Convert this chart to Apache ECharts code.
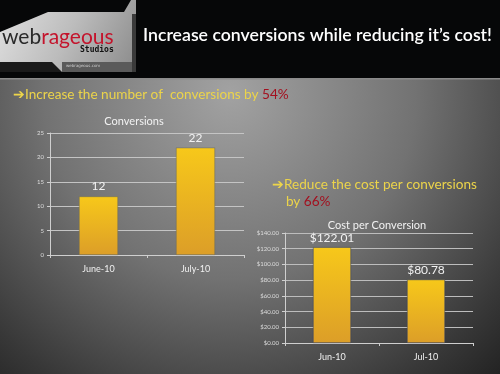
<!DOCTYPE html>
<html><head><meta charset="utf-8">
<script src="https://cdn.jsdelivr.net/npm/echarts@6/dist/echarts.min.js"></script>
<style>html,body{margin:0;padding:0;background:#000}#c{width:500px;height:374px}</style>
</head><body><div id="c"></div>
<script>
const convCategories = ['June-10', 'July-10'];
const convValues = [12, 22];
const convTicks = [0, 5, 10, 15, 20, 25];
const costCategories = ['Jun-10', 'Jul-10'];
const costValues = [122.01, 80.78];
const costTicks = [0, 20, 40, 60, 80, 100, 120, 140];

const chart = echarts.init(document.getElementById('c'), null, {renderer: 'canvas'});
const barColor = {type: 'linear', x: 0, y: 0, x2: 0, y2: 1, colorStops: [{offset: 0, color: '#f7c81a'}, {offset: 1, color: '#dc9e28'}]};
const txtFont = 'Lato, "Open Sans", sans-serif';

chart.setOption({
  backgroundColor: '#000',
  animation: false,
  graphic: [
    {type: 'rect', z: -10, shape: {x: 0, y: 78, width: 500, height: 296},
      style: {fill: {type: 'radial', x: 0.46, y: 0.05, r: 1.4, colorStops: [
        {offset: 0, color: '#a2a2a2'}, {offset: 0.45, color: '#727272'}, {offset: 0.8, color: '#383838'}, {offset: 1, color: '#1a1a1a'}]}}},
    {type: 'rect', z: -9, shape: {x: 0, y: 0, width: 500, height: 78}, style: {fill: '#060708'}},
    {type: 'rect', z: -9, shape: {x: 0, y: 78, width: 500, height: 1.5}, style: {fill: '#8a8a8a'}},
    {type: 'polygon', z: -8, shape: {points: [[0,32],[48,12],[124,12],[131,0],[136,0],[136,72],[0,72]]},
      style: {fill: {type: 'linear', x: 0, y: 0, x2: 1, y2: 1, colorStops: [{offset: 0, color: '#e2e2e2'}, {offset: 0.5, color: '#bcbcbc'}, {offset: 1, color: '#8a8a8a'}]}}},
    {type: 'polygon', z: -7, shape: {points: [[0,62],[52,62],[62,72],[0,72]]}, style: {fill: '#1a1a1a'}},
    {type: 'rect', z: -7, shape: {x: 62, y: 62, width: 74, height: 10}, style: {fill: '#5a5a5a'}},
    {type: 'rect', z: -7, shape: {x: 132, y: 14, width: 4, height: 58}, style: {fill: '#3a3a3a'}},
    {type: 'text', left: 2, top: 27, style: {rich: {a: {fill: '#2a2a2a', fontSize: 21, fontFamily: txtFont}, b: {fill: '#c4142c', fontSize: 21, fontFamily: txtFont}}, text: '{a|web}{b|rageous}'}},
    {type: 'text', left: 80, top: 46, style: {text: 'Studios', fill: '#111', font: 'bold 8px "DejaVu Sans Mono", monospace'}},
    {type: 'text', left: 66, top: 64, style: {text: 'webrageous.com', fill: '#ccc', font: '4px "DejaVu Sans", sans-serif'}},
    {type: 'text', left: 143, top: 26, style: {text: 'Increase conversions while reducing it\u2019s cost!', fill: '#ffffff', font: '600 17.7px ' + txtFont}},
    {type: 'text', left: 13, top: 88, style: {rich: {a: {fill: '#ecd44a', fontSize: 13.6, fontFamily: txtFont}, b: {fill: '#a3101f', fontSize: 13.6, fontFamily: txtFont}}, text: '{a|\u2794Increase the number of  conversions by }{b|54%}'}},
    {type: 'text', left: 272, top: 178, style: {rich: {a: {fill: '#ecd44a', fontSize: 13.6, fontFamily: txtFont, lineHeight: 17}, b: {fill: '#a3101f', fontSize: 13.6, fontFamily: txtFont, lineHeight: 17}}, text: '{a|\u2794Reduce the cost per conversions}\n{a|    by }{b|66%}'}}
  ],
  title: [
    {text: 'Conversions', left: 129, top: 111, textAlign: 'center', textStyle: {color: '#f2f2f2', fontSize: 11, fontWeight: 'normal', fontFamily: txtFont}},
    {text: 'Cost per Conversion', left: 372, top: 215, textAlign: 'center', textStyle: {color: '#f2f2f2', fontSize: 11, fontWeight: 'normal', fontFamily: txtFont}}
  ],
  grid: [
    {left: 50, top: 133, width: 194, height: 122},
    {left: 285, top: 233, width: 188, height: 110}
  ],
  xAxis: [
    {type: 'category', gridIndex: 0, data: convCategories,
      axisLine: {lineStyle: {color: '#cfcfcf', width: 1}}, axisTick: {show: true, length: 3, lineStyle: {color: '#cfcfcf'}},
      axisLabel: {color: '#f0f0f0', fontSize: 9, margin: 10, fontFamily: txtFont}},
    {type: 'category', gridIndex: 1, data: costCategories,
      axisLine: {lineStyle: {color: '#cfcfcf', width: 1}}, axisTick: {show: true, length: 3, lineStyle: {color: '#cfcfcf'}},
      axisLabel: {color: '#f0f0f0', fontSize: 9, margin: 10, fontFamily: txtFont}}
  ],
  yAxis: [
    {type: 'value', gridIndex: 0, min: convTicks[0], max: convTicks[convTicks.length - 1], interval: 5,
      axisLine: {show: true, lineStyle: {color: '#cfcfcf'}}, axisTick: {show: true, length: 3, lineStyle: {color: '#cfcfcf'}},
      splitLine: {lineStyle: {color: '#c4c4c4', width: 1}},
      axisLabel: {color: '#dddddd', fontSize: 6, margin: 6, fontFamily: txtFont}},
    {type: 'value', gridIndex: 1, min: costTicks[0], max: costTicks[costTicks.length - 1], interval: 20,
      axisLine: {show: true, lineStyle: {color: '#cfcfcf'}}, axisTick: {show: true, length: 3, lineStyle: {color: '#cfcfcf'}},
      splitLine: {lineStyle: {color: '#bdbdbd', width: 1}},
      axisLabel: {color: '#dddddd', fontSize: 6, margin: 6, fontFamily: txtFont, formatter: v => '$' + v.toFixed(2)}}
  ],
  series: [
    {type: 'bar', xAxisIndex: 0, yAxisIndex: 0, data: convValues, barWidth: 39,
      itemStyle: {color: barColor, borderColor: '#6b6a5a', borderWidth: 0.5},
      label: {show: true, position: 'top', distance: 4, color: '#f2f2f2', fontSize: 12, fontFamily: txtFont}},
    {type: 'bar', xAxisIndex: 1, yAxisIndex: 1, data: costValues, barWidth: 38,
      itemStyle: {color: barColor, borderColor: '#2a3a6a', borderWidth: 0.5},
      label: {show: true, position: 'top', distance: 3, color: '#f2f2f2', fontSize: 12, fontFamily: txtFont, formatter: p => '$' + p.value.toFixed(2)}}
  ]
});
</script></body></html>
